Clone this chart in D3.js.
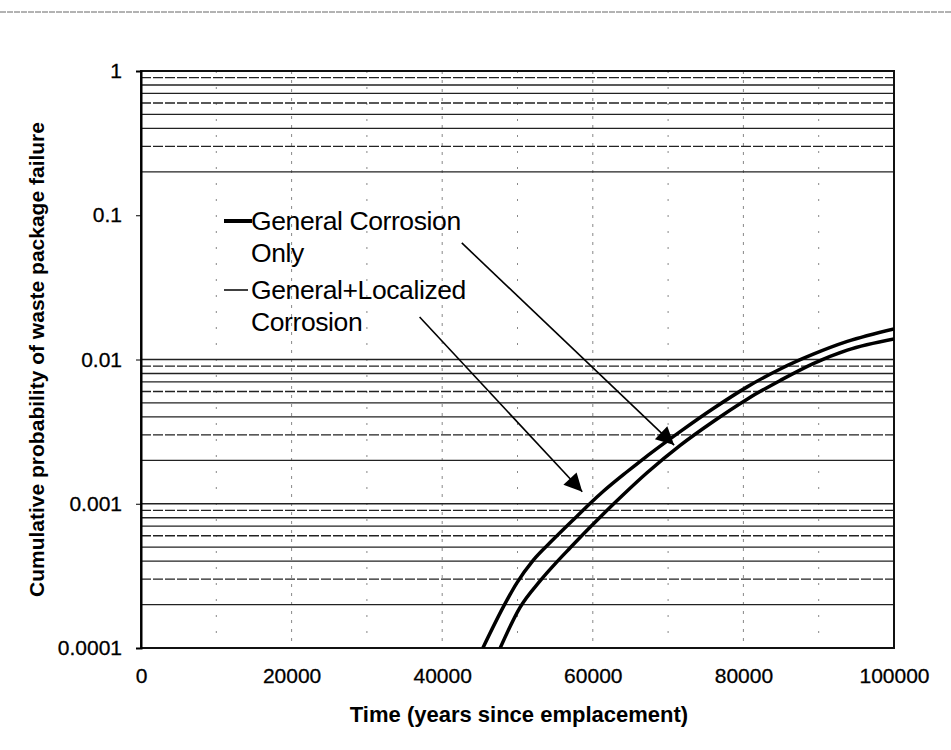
<!DOCTYPE html>
<html>
<head>
<meta charset="utf-8">
<script src="https://cdn.jsdelivr.net/npm/d3@7"></script>
<style>
  body { margin: 0; background: #fff; }
  svg { display: block; font-family: Arial, "Liberation Sans", sans-serif; }
</style>
</head>
<body>
<svg></svg>
<script>
// Waste package failure probability chart
const width = 951;
const height = 750;

// x axis ticks (years) and y axis ticks (probability)
const xTicks = [0, 20000, 40000, 60000, 80000, 100000];
const xGrid = [10000, 20000, 30000, 40000, 50000, 60000, 70000, 80000, 90000];
const yTicks = [0.0001, 0.001, 0.01, 0.1, 1];
const yTickLabels = ["0.0001", "0.001", "0.01", "0.1", "1"];
// decades that carry horizontal grid lines (2..10 x decade)
const gridDecades = [0.0001, 0.001, 0.1];

// General+Localized Corrosion
const timeLocalized = [45400, 48100, 49900, 52100, 54700, 57900, 59600, 61400, 64500, 66300, 71600, 76000, 80500, 84900, 89200, 93800, 100000];
const probLocalized = [0.0001, 0.000192, 0.000282, 0.000407, 0.000562, 0.00082, 0.0010, 0.00122, 0.00166, 0.00197, 0.00316, 0.00457, 0.00646, 0.0086, 0.01084, 0.01334, 0.0163];

// General Corrosion Only
const timeGeneral = [47700, 50300, 53000, 55200, 57000, 59600, 61900, 64000, 67200, 71600, 76000, 80500, 84900, 89200, 93800, 100000];
const probGeneral = [0.0001, 0.00019, 0.000292, 0.000394, 0.000495, 0.000684, 0.000902, 0.00115, 0.00164, 0.00254, 0.00372, 0.00531, 0.00716, 0.00933, 0.01161, 0.01387];

// arrows: [startTime, startProb, endTime, endProb]
const arrowGeneral = [42600, 0.0643, 70800, 0.00255];
const arrowLocalized = [37000, 0.0197, 58600, 0.00121];

const margin = { top: 71, right: 57, bottom: 102, left: 141 };

const svg = d3.select("svg")
    .attr("width", width)
    .attr("height", height)
    .attr("viewBox", `0 0 ${width} ${height}`);

const x = d3.scaleLinear()
    .domain([0, 100000])
    .range([margin.left, width - margin.right]);

const y = d3.scaleLog()
    .domain([0.0001, 1])
    .range([height - margin.bottom, margin.top]);

// scanned page rule at the top
svg.append("line")
    .attr("x1", 0).attr("x2", width)
    .attr("y1", 12).attr("y2", 12)
    .style("stroke", "#666")
    .style("stroke-width", 1)
    .style("stroke-dasharray", "6,1");

svg.append("defs").append("clipPath")
    .attr("id", "plot-clip")
    .append("rect")
    .attr("x", x(0)).attr("y", y(1))
    .attr("width", x(100000) - x(0))
    .attr("height", y(0.0001) - y(1));

// vertical grid
svg.append("g")
    .selectAll("line")
    .data(xGrid)
    .enter().append("line")
    .attr("x1", d => x(d)).attr("x2", d => x(d))
    .attr("y1", y(1)).attr("y2", y(0.0001))
    .style("stroke", "#888")
    .style("stroke-width", 1)
    .style("stroke-dasharray", d => d % 20000 === 0 ? "3,6" : "2,14");

// horizontal grid
const gridValues = gridDecades.flatMap(d => d3.range(2, 11).map(k => k * d));
svg.append("g")
    .selectAll("line")
    .data(gridValues)
    .enter().append("line")
    .attr("x1", x(0)).attr("x2", x(100000))
    .attr("y1", d => y(d)).attr("y2", d => y(d))
    .style("stroke", "#222")
    .style("stroke-width", 1.3)
    .style("stroke-dasharray", (d, i) => i % 3 === 1 ? "10,2" : null);

// plot frame
svg.append("rect")
    .attr("x", x(0)).attr("y", y(1))
    .attr("width", x(100000) - x(0))
    .attr("height", y(0.0001) - y(1))
    .style("fill", "none")
    .style("stroke", "#111")
    .style("stroke-width", 2);

// axes
const yAxis = svg.append("g")
    .attr("transform", `translate(${x(0)},0)`)
    .call(d3.axisLeft(y).tickValues(yTicks).tickSize(5).tickPadding(14)
        .tickFormat((d, i) => yTickLabels[i]));
yAxis.select(".domain").style("stroke-width", 2);
yAxis.selectAll("text")
    .style("font-size", "21px")
    .style("fill", "#000")
    .style("stroke", "#000")
    .style("stroke-width", 0.3);

const xAxis = svg.append("g")
    .attr("transform", `translate(0,${y(0.0001)})`)
    .call(d3.axisBottom(x).tickValues(xTicks).tickSize(0).tickPadding(20)
        .tickFormat(d3.format("d")));
xAxis.select(".domain").remove();
xAxis.selectAll("text")
    .style("font-size", "21px")
    .style("fill", "#000")
    .style("stroke", "#000")
    .style("stroke-width", 0.3);

// axis titles
svg.append("text")
    .attr("x", 519)
    .attr("y", 722)
    .style("text-anchor", "middle")
    .style("font-size", "22px")
    .style("font-weight", "bold")
    .text("Time (years since emplacement)");

svg.append("text")
    .attr("transform", `translate(44,${(y(1) + y(0.0001)) / 2}) rotate(-90)`)
    .style("text-anchor", "middle")
    .style("font-size", "21px")
    .style("font-weight", "bold")
    .text("Cumulative probability of waste package failure");

// curves
const line = d3.line()
    .curve(d3.curveMonotoneX)
    .x(d => x(d[0]))
    .y(d => y(d[1]));

const curves = [
    d3.zip(timeLocalized, probLocalized),
    d3.zip(timeGeneral, probGeneral)
];

svg.append("g")
    .attr("clip-path", "url(#plot-clip)")
    .selectAll("path")
    .data(curves)
    .enter().append("path")
    .attr("d", line)
    .style("fill", "none")
    .style("stroke", "#000")
    .style("stroke-width", 3.5)
    .style("stroke-linejoin", "round");

// arrows
svg.select("defs").append("marker")
    .attr("id", "arrow")
    .attr("viewBox", "0 0 10 10")
    .attr("refX", 10).attr("refY", 5)
    .attr("markerUnits", "userSpaceOnUse")
    .attr("markerWidth", 22).attr("markerHeight", 18)
    .attr("orient", "auto")
    .append("path")
    .attr("d", "M0,0 L10,5 L0,10 Z")
    .style("fill", "#000");

svg.append("g")
    .selectAll("line")
    .data([arrowGeneral, arrowLocalized])
    .enter().append("line")
    .attr("x1", d => x(d[0])).attr("y1", d => y(d[1]))
    .attr("x2", d => x(d[2])).attr("y2", d => y(d[3]))
    .style("stroke", "#000")
    .style("stroke-width", 1.6)
    .attr("marker-end", "url(#arrow)");

// legend
const legend = svg.append("g").attr("transform", "translate(224,0)");
const legendItems = [
    { lines: ["General Corrosion", "Only"], y: 221, w: 4 },
    { lines: ["General+Localized", "Corrosion"], y: 290, w: 1.5 }
];
legendItems.forEach(item => {
    legend.append("line")
        .attr("x1", 0).attr("x2", item.w > 2 ? 28 : 24)
        .attr("y1", item.y).attr("y2", item.y)
        .style("stroke", "#000")
        .style("stroke-width", item.w);
    legend.append("text")
        .attr("x", 27)
        .attr("y", item.y + 9)
        .style("font-size", "26.5px")
        .style("letter-spacing", "-0.4px")
        .selectAll("tspan")
        .data(item.lines)
        .enter().append("tspan")
        .attr("x", 27)
        .attr("dy", (d, i) => i === 0 ? 0 : 32)
        .text(d => d);
});
</script>
</body>
</html>
